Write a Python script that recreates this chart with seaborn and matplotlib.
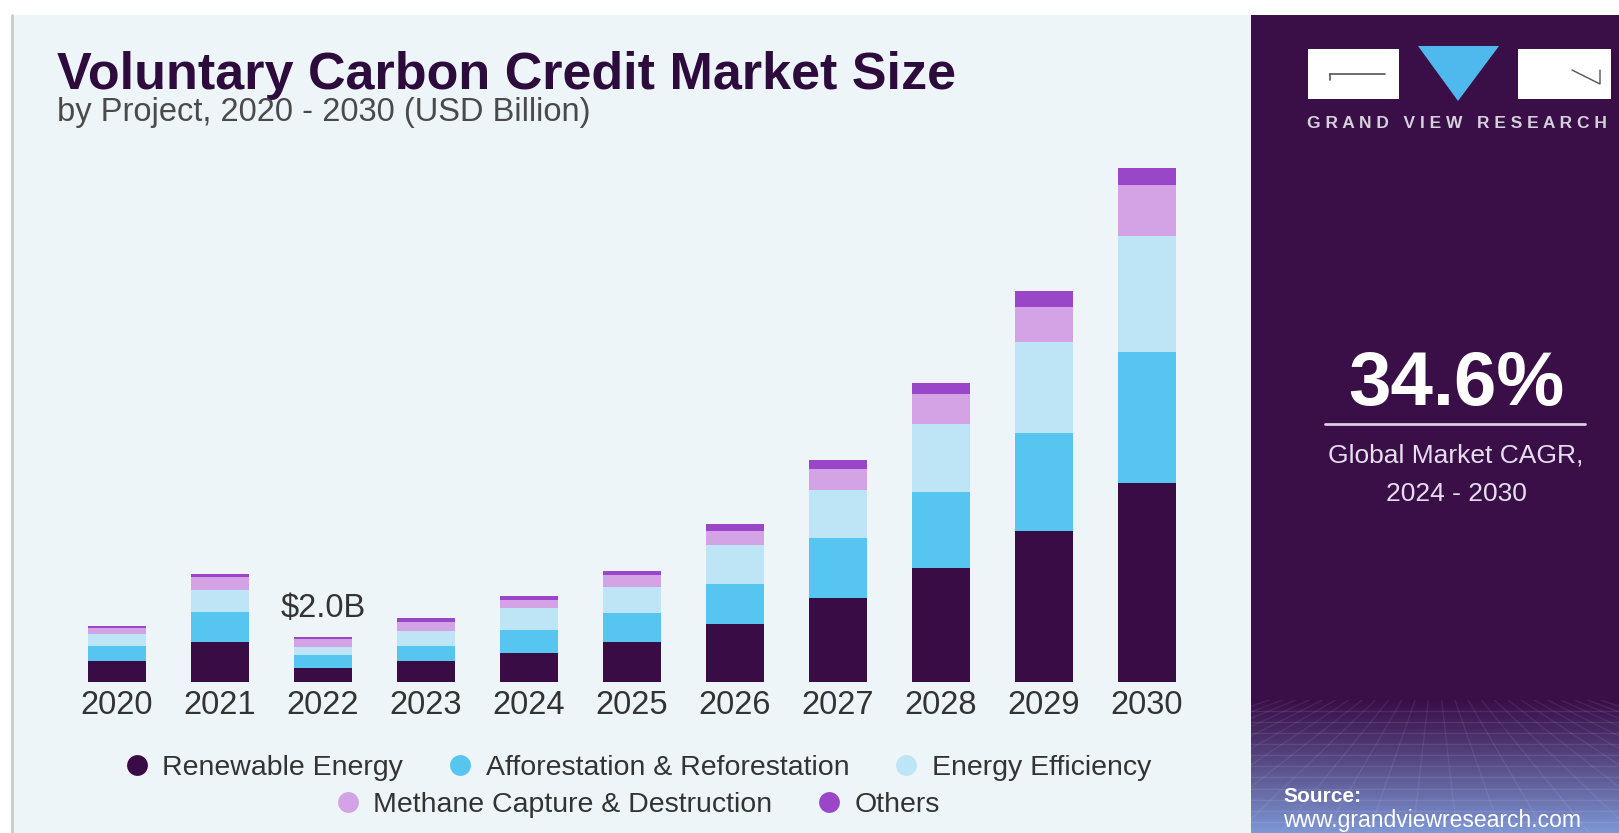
import numpy as np
import pandas as pd
import matplotlib
matplotlib.use("Agg")
import matplotlib.pyplot as plt
import seaborn as sns
from matplotlib.patches import Rectangle, Polygon
from matplotlib.lines import Line2D

# ---------------- data (USD Billion) ----------------
years = ["2020", "2021", "2022", "2023", "2024", "2025", "2026", "2027", "2028", "2029", "2030"]
renewable = [0.93, 1.78, 0.62, 0.93, 1.29, 1.75, 2.55, 3.72, 5.03, 6.66, 8.75]
afforestation = [0.65, 1.29, 0.56, 0.65, 0.98, 1.30, 1.78, 2.63, 3.33, 4.29, 5.80]
efficiency = [0.53, 0.98, 0.34, 0.68, 0.99, 1.14, 1.70, 2.09, 3.02, 4.02, 5.11]
methane = [0.25, 0.59, 0.36, 0.40, 0.37, 0.53, 0.62, 0.93, 1.32, 1.55, 2.24]
others = [0.10, 0.13, 0.12, 0.15, 0.15, 0.17, 0.31, 0.40, 0.48, 0.72, 0.72]

segments = ["Renewable Energy", "Afforestation & Reforestation", "Energy Efficiency",
            "Methane Capture & Destruction", "Others"]
colors = ["#3a0c45", "#56c5ef", "#bde5f6", "#d3a3e6", "#9a46c8"]
label_year = "2022"
label_text = "$2.0B"

# ---------------- figure ----------------
sns.set_theme(style="white")
plt.rcParams["font.family"] = ["Liberation Sans", "DejaVu Sans"]

W, H = 1619, 833
fig = plt.figure(figsize=(W / 100, H / 100), dpi=100)
fig.patch.set_facecolor("white")


def fx(px):
    return px / W


def fy(py):
    return (H - py) / H


# light chart panel
fig.add_artist(Rectangle((fx(14), 0), fx(1251) - fx(14), fy(15), transform=fig.transFigure,
                         facecolor="#eef5f8", edgecolor="none", zorder=0))
fig.add_artist(Line2D([fx(12), fx(12)], [0, fy(15)], transform=fig.transFigure,
                      color="#c9c9c9", lw=2, zorder=1))
# dark right panel
fig.add_artist(Rectangle((fx(1251), 0), 1 - fx(1251), fy(15), transform=fig.transFigure,
                         facecolor="#3a0f48", edgecolor="none", zorder=0))

# gradient at bottom of dark panel
gax = fig.add_axes([fx(1251), 0, 1 - fx(1251), fy(700)])
grad = np.linspace(0, 1, 200)[:, None]
c_top = np.array([0x3a, 0x0f, 0x48]) / 255
c_bot = np.array([0x7e, 0x98, 0xd6]) / 255
g = grad[:, :, None] ** 1.1
img = c_top[None, None, :] * (1 - g) + c_bot[None, None, :] * g
img = np.repeat(img, 10, axis=1)
gax.imshow(img, aspect="auto", extent=[0, 1, 1, 0])
for k in np.linspace(0.08, 1.0, 12):
    gax.plot([0, 1], [k, k], color="white", alpha=0.09, lw=1)
for k in np.linspace(-1, 2, 26):
    gax.plot([0.5 + (k - 0.5) * 0.3, k], [0, 1], color="white", alpha=0.07, lw=1)
gax.set_xlim(0, 1)
gax.set_ylim(1, 0)
gax.axis("off")

# ---------------- bars ----------------
ax = fig.add_axes([fx(65.5), fy(682), 1133 / W, 545 / H])
ax.set_facecolor("none")

df = pd.DataFrame({"year": years})
layers = [renewable, afforestation, efficiency, methane, others]
cum = np.cumsum(np.array(layers, dtype=float), axis=0)
for i in range(len(layers) - 1, -1, -1):
    df["cum"] = cum[i]
    sns.barplot(data=df, x="year", y="cum", order=years, color=colors[i], saturation=1,
                width=0.57, linewidth=0, ax=ax, errorbar=None)

ax.set_xlim(-0.5, len(years) - 0.5)
ax.set_ylim(0, 24)
ax.set_xlabel("")
ax.set_ylabel("")
ax.set_yticks([])
for s in ax.spines.values():
    s.set_visible(False)
ax.tick_params(axis="x", length=0, pad=6, labelsize=23.5, labelcolor="#333333")

# value label
idx = years.index(label_year)
ax.text(idx, cum[-1][idx] + 0.55, label_text, ha="center", va="bottom",
        fontsize=23.5, color="#333333")

# ---------------- titles ----------------
fig.text(fx(57), fy(75), "Voluntary Carbon Credit Market Size", fontsize=37.5,
         fontweight="bold", color="#2e0b3d", ha="left", va="center")
fig.text(fx(57), fy(113), "by Project, 2020 - 2030 (USD Billion)", fontsize=23.5,
         color="#4a4a4a", ha="left", va="center")

# ---------------- legend ----------------
def handle(c):
    return Line2D([], [], marker="o", linestyle="none", markersize=15,
                  markerfacecolor=c, markeredgecolor="none")


leg1 = fig.legend([handle(c) for c in colors[:3]], segments[:3], loc="center",
                  bbox_to_anchor=(fx(637), fy(768)), ncol=3, frameon=False,
                  fontsize=20.5, handlelength=1.0, handletextpad=0.4, columnspacing=1.5,
                  labelcolor="#333333")
leg2 = fig.legend([handle(c) for c in colors[3:]], segments[3:], loc="center",
                  bbox_to_anchor=(fx(637), fy(805)), ncol=2, frameon=False,
                  fontsize=20.5, handlelength=1.0, handletextpad=0.4, columnspacing=1.5,
                  labelcolor="#333333")

# ---------------- right panel ----------------
fig.add_artist(Rectangle((fx(1308), fy(99)), fx(1399) - fx(1308), fy(49) - fy(99),
                         transform=fig.transFigure, facecolor="white", edgecolor="none", zorder=2))
fig.add_artist(Rectangle((fx(1518), fy(99)), fx(1611) - fx(1518), fy(49) - fy(99),
                         transform=fig.transFigure, facecolor="white", edgecolor="none", zorder=2))
fig.add_artist(Polygon([(fx(1418), fy(46)), (fx(1499), fy(46)), (fx(1458), fy(101))],
                       closed=True, transform=fig.transFigure, facecolor="#4fb8ec",
                       edgecolor="none", zorder=2))
fig.add_artist(Line2D([fx(1330), fx(1385)], [fy(74), fy(74)], transform=fig.transFigure,
                      color="#555555", lw=1.2, zorder=3))
fig.add_artist(Line2D([fx(1330), fx(1330)], [fy(74), fy(80)], transform=fig.transFigure,
                      color="#555555", lw=1.2, zorder=3))
fig.add_artist(Line2D([fx(1572), fx(1600), fx(1600)], [fy(70), fy(84), fy(70)],
                      transform=fig.transFigure, color="#555555", lw=1.0, zorder=3))
fig.text(fx(1457), fy(123), "G R A N D   V I E W   R E S E A R C H", fontsize=12.5,
         fontweight="bold", color="#d6d0dd", ha="center", va="center")

fig.text(fx(1456), fy(385), "34.6%", fontsize=55, fontweight="bold", color="white",
         ha="center", va="center")
fig.add_artist(Line2D([fx(1325), fx(1585)], [fy(424), fy(424)], transform=fig.transFigure,
                      color="#d9cfe3", lw=2, zorder=3))
fig.text(fx(1456), fy(456), "Global Market CAGR,", fontsize=19, color="#e6deee",
         ha="center", va="center")
fig.text(fx(1456), fy(494), "2024 - 2030", fontsize=19, color="#e6deee",
         ha="center", va="center")
fig.text(fx(1283), fy(797), "Source:", fontsize=15, fontweight="bold", color="white",
         ha="left", va="center")
fig.text(fx(1283), fy(820), "www.grandviewresearch.com", fontsize=16.5, color="white",
         ha="left", va="center")

fig.savefig("out.png", dpi=100, facecolor=fig.get_facecolor())
